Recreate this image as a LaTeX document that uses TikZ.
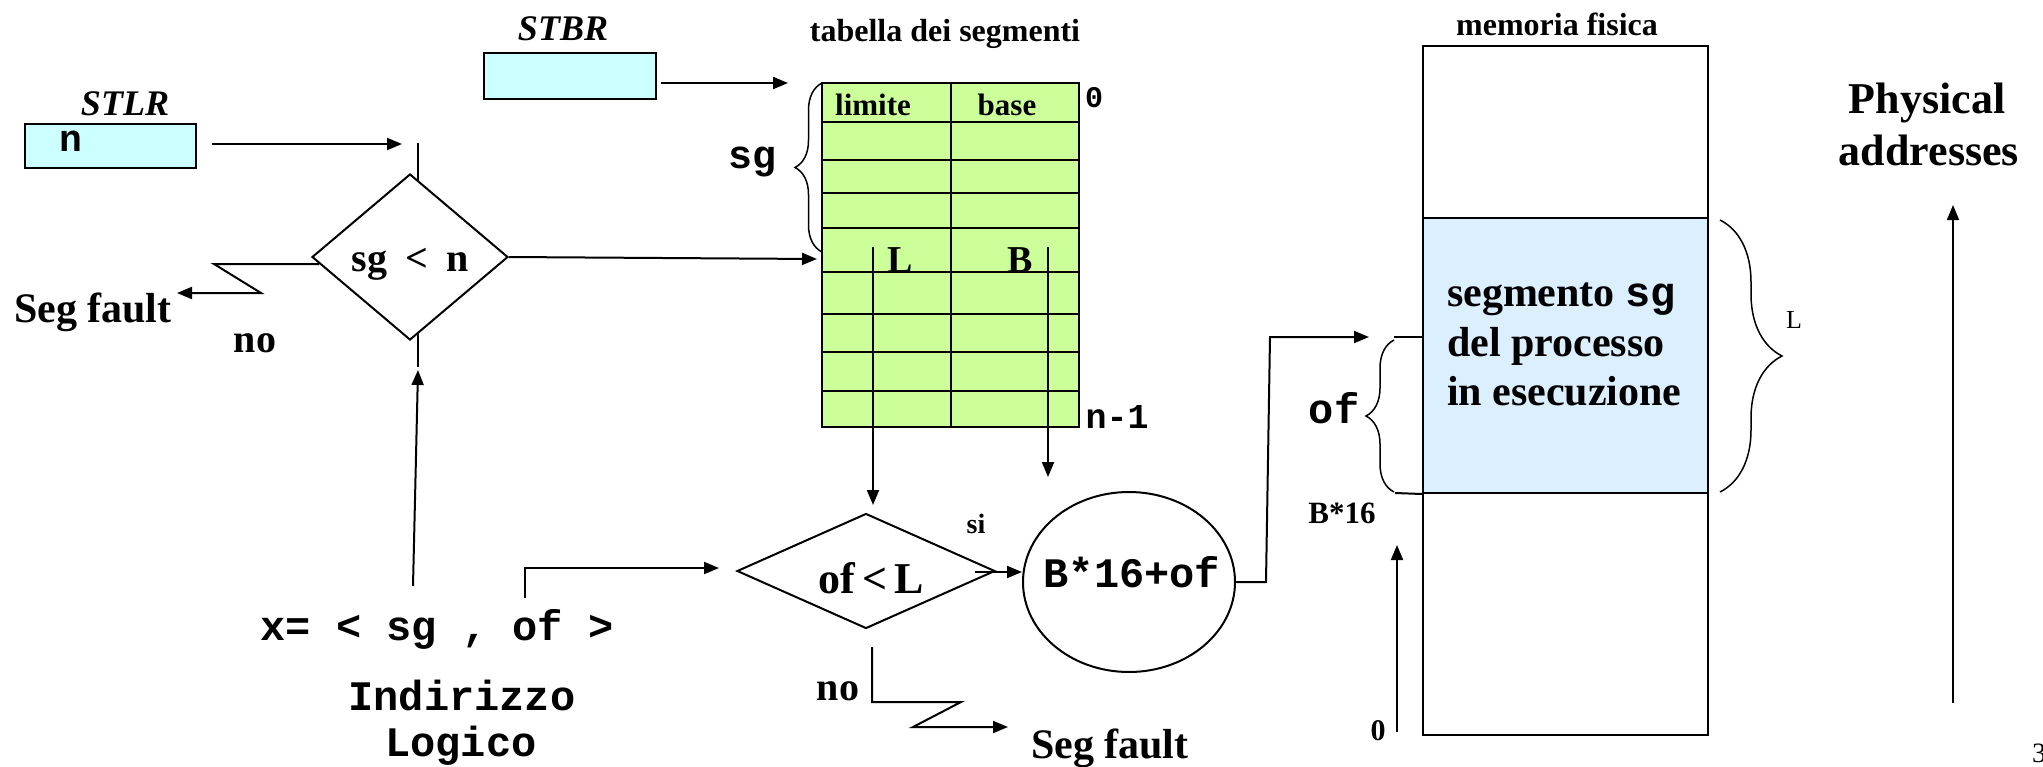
\documentclass[tikz,border=0pt]{standalone}
\usepackage{fontspec}
\setmainfont{Liberation Serif}
\setmonofont{Liberation Mono}
\usetikzlibrary{arrows.meta,shapes.geometric,decorations.pathreplacing}
\definecolor{regcyan}{RGB}{204,255,255}
\definecolor{tabgreen}{RGB}{204,255,153}
\definecolor{segblue}{RGB}{219,239,255}
\begin{document}
\begin{tikzpicture}[x=1pt,y=-1pt,line width=2pt,
  arr/.style={-{Triangle[length=15pt,width=12pt]}},
  tb/.style={inner sep=0pt,font=\fontsize{#1}{#1}\selectfont\bfseries},
  tbi/.style={inner sep=0pt,font=\fontsize{#1}{#1}\selectfont\bfseries\itshape},
  tr/.style={inner sep=0pt,font=\fontsize{#1}{#1}\selectfont},
  tt/.style={inner sep=0pt,font=\fontsize{#1}{#1}\selectfont\ttfamily\bfseries},
  box/.style={draw,inner sep=0pt},
  brc/.style={decorate,decoration={brace,amplitude=#1},line width=1.5pt},
]
\useasboundingbox (0,0) rectangle (2043,766);

% ---------- registers ----------
\node[box,fill=regcyan,minimum width=171pt,minimum height=44pt] (stlr) at (110.5,146) {};
\node[tt=38,anchor=base] (nval) at (71,151) {n};
\node[tbi=36,anchor=base] (stlrlab) at (125,115) {STLR};
\node[box,fill=regcyan,minimum width=172pt,minimum height=46pt] (stbr) at (570,76) {};
\node[tbi=36,anchor=base] (stbrlab) at (563,40) {STBR};

% ---------- segment table ----------
\node[tb=32,anchor=base] (tabtitle) at (945,41) {tabella dei segmenti};
\node[box,fill=tabgreen,minimum width=257pt,minimum height=344pt] (tab) at (950.5,255) {};
\draw (951,83) -- (951,427);
\foreach \yy in {122,160,193,228,272,314,352,391} \draw (822,\yy) -- (1078,\yy);
\node[tb=31,anchor=base] (lim) at (873,115) {limite};
\node[tb=31,anchor=base] (bas) at (1007,115) {base};
\node[tt=30,anchor=base] (zero) at (1094,107) {0};
\node[tt=35,anchor=base] (nm1) at (1117,428) {n-1};
\node[tb=38,anchor=base] (Lt) at (900,272) {L};
\node[tb=38,anchor=base] (Bt) at (1020,272) {B};
\node[tt=40,anchor=base] (sgl) at (752,168) {sg};
\coordinate (sgbb) at (822,252);
\coordinate (sgbt) at (822,83);
\draw[brc=27pt] (sgbb) -- (sgbt);

% ---------- first check ----------
\node[diamond,draw,minimum width=196pt,minimum height=166pt,aspect=1.18,inner sep=0pt] (d1) at (410,257) {};
\node[tb=40,anchor=base] (d1t) at (410,271) {sg\hspace{0.45em}<\hspace{0.45em}n};
\node[tb=42,anchor=base west] (sf1) at (13,322) {Seg fault};
\node[tb=40,anchor=base] (no1) at (255,352) {no};

% ---------- logical address ----------
\node[tt=42,anchor=base] (xaddr) at (437,640) {x= < sg , of >};
\node[tt=42,anchor=base] (ind) at (462,710) {Indirizzo};
\node[tt=42,anchor=base] (log) at (461,756) {Logico};

% ---------- second check ----------
\node[diamond,draw,minimum width=258pt,minimum height=115pt,aspect=2.24,inner sep=0pt] (d2) at (866,571) {};
\node[tb=44,anchor=base] (d2t) at (871,593) {of\,<\,L};
\node[tb=28,anchor=base] (si) at (976,533) {si};
\node[tb=40,anchor=base] (no2) at (838,700) {no};
\node[tb=42,anchor=base west] (sf2) at (1030,758) {Seg fault};

% ---------- address computation ----------
\node[ellipse,draw,minimum width=212pt,minimum height=180pt,inner sep=0pt] (calc) at (1129,582) {};
\node[tt=42,anchor=base] (calct) at (1132,587) {B*16+of};

% ---------- physical memory ----------
\node[tb=32,anchor=base] (memtitle) at (1557,35) {memoria fisica};
\node[box,minimum width=285pt,minimum height=689pt] (mem) at (1565.5,390.5) {};
\node[box,fill=segblue,minimum width=285pt,minimum height=275pt] (seg) at (1565.5,355.5) {};
\node[tb=42,anchor=base west] (seg1) at (1446,306) {segmento \texttt{sg}};
\node[tb=42,anchor=base west] (seg2) at (1446,356) {del processo};
\node[tb=42,anchor=base west] (seg3) at (1446,405) {in esecuzione};
\node[tr=26,anchor=base] (Lm) at (1794,328) {L};
\node[tt=42,anchor=base] (ofm) at (1334,423) {of};
\node[tb=31,anchor=base] (b16) at (1342,523) {B*16};
\node[tb=30,anchor=base] (zm) at (1378,740) {0};
\node[tb=44,anchor=base] (phys1) at (1927,113) {Physical};
\node[tb=44,anchor=base] (phys2) at (1929,165) {addresses};
\node[tr=28,anchor=base west] (pg) at (2031,762) {3};

\draw[brc=62pt] (seg.north east) ++(11,3) coordinate (mbt) -- ++(0,272) coordinate (mbb);
\coordinate (ofbb) at (1394,492);
\coordinate (ofbt) at (1394,340);
\draw[brc=28pt] (ofbb) -- (ofbt);

% ---------- connectors ----------
\coordinate (a1s) at (212,144);
\coordinate (a1e) at (402,144);
\draw[arr] (a1s) -- (a1e);
\coordinate (v1t) at (418,143);
\draw (v1t) -- (418,181);
\coordinate (v1b) at (418,367);
\draw (418,333) -- (v1b);
\coordinate (xup) at (413,586);
\coordinate (xupe) at (418,370);
\draw[arr] (xup) -- (xupe);
\coordinate (nob) at (214,264);
\coordinate (noc) at (261,293);
\coordinate (sf1e) at (177,293);
\draw[arr] (319,264) -- (nob) -- (noc) -- (sf1e);
\coordinate (d1r) at (817,259);
\draw[arr] (d1.east) -- (d1r);
\coordinate (stbre) at (788,83);
\draw[arr] ([xshift=4pt]stbr.east |- stbre) -- (stbre);
\coordinate (Le) at (873,505);
\draw[arr] (873,247) -- (Le);
\coordinate (Be) at (1048,477);
\draw[arr] (1048,247) -- (Be);
\coordinate (ofs) at (525,598);
\coordinate (ofe) at (719,568);
\draw[arr] (ofs) -- (525,568) -- (ofe);
\coordinate (sis) at (975,572);
\draw[arr] (sis) -- (calc.west |- sis);
\coordinate (cr) at (1266,582);
\coordinate (ct) at (1270,337);
\coordinate (ce) at (1369,337);
\draw[arr] (calc.east |- cr) -- (cr) -- (ct) -- (ce);
\draw (1394,337) -- (mem.west |- 0,337);
\draw (1395,493) -- (seg.south west);
\coordinate (no2t) at (872,647);
\coordinate (no2a) at (872,702);
\coordinate (no2b) at (961,702);
\coordinate (no2c) at (913,727);
\coordinate (sf2e) at (1008,727);
\draw[arr] (no2t) -- (no2a) -- (no2b) -- (no2c) -- (sf2e);
\coordinate (b16s) at (1397,732);
\coordinate (b16e) at (1397,545);
\draw[arr] (b16s) -- (b16e);
\coordinate (phs) at (1953,703);
\coordinate (phe) at (1953,205);
\draw[arr,line width=1.6pt] (phs) -- (phe);
\end{tikzpicture}
\end{document}
